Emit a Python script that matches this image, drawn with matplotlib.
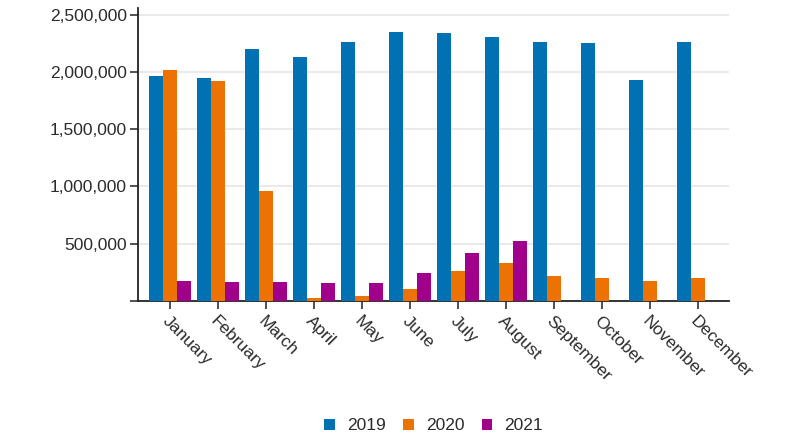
import numpy as np
import matplotlib.pyplot as plt

plt.rcParams['font.family'] = ['Liberation Sans', 'DejaVu Sans']

months = ['January', 'February', 'March', 'April', 'May', 'June', 'July',
          'August', 'September', 'October', 'November', 'December']
y2019 = [1966000, 1948000, 2202000, 2130000, 2266000, 2350000, 2345000,
         2307000, 2266000, 2252000, 1928000, 2266000]
y2020 = [2016000, 1925000, 960000, 26000, 44000, 100000, 262000,
         332000, 216000, 196000, 170000, 199000]
y2021 = [175000, 164000, 166000, 152000, 152000, 245000, 420000, 525000]

colors = ['#0071b2', '#ec7204', '#a1008b']

fig = plt.figure(figsize=(8, 4.45), dpi=100)
ax = fig.add_axes([0.1725, 0.324, 0.7387, 0.658])

x = np.arange(len(months))
w = 0.29
ax.bar(x - w, y2019, w, color=colors[0], label='2019', zorder=3)
ax.bar(x, y2020, w, color=colors[1], label='2020', zorder=3)
ax.bar(np.arange(len(y2021)) + w, y2021, w, color=colors[2], label='2021', zorder=3)

ax.set_xlim(-0.667, 11.646)
ax.set_ylim(0, 2560000)
ax.set_yticks([0, 500000, 1000000, 1500000, 2000000, 2500000])
ax.set_yticklabels(['', '500,000', '1,000,000', '1,500,000', '2,000,000', '2,500,000'])
ax.grid(axis='y', color='#e6e6e6', linewidth=1.2, zorder=0)

ax.set_xticks(x)
ax.set_xticklabels(months, rotation=-45, ha='left', va='top', rotation_mode='anchor')

for s in ['top', 'right']:
    ax.spines[s].set_visible(False)
for s in ['left', 'bottom']:
    ax.spines[s].set_color('#222222')
    ax.spines[s].set_linewidth(1.3)

ax.tick_params(axis='both', length=6, width=1.2, color='#333333',
               labelsize=12.5, labelcolor='#2b2b2b')
ax.tick_params(axis='y', pad=2)
ax.tick_params(axis='x', pad=3)

fig.legend(loc='center', bbox_to_anchor=(0.542, 0.043), ncol=3, frameon=False,
           fontsize=12.5, handlelength=0.6, handleheight=0.6, handletextpad=0.7,
           columnspacing=1.0, labelcolor='#2b2b2b')

fig.savefig('out.png', dpi=100)
